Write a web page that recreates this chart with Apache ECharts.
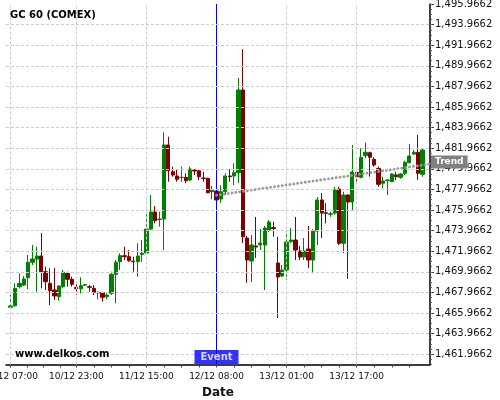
<!DOCTYPE html>
<html><head><meta charset="utf-8">
<script src="https://cdn.jsdelivr.net/npm/echarts@6/dist/echarts.min.js"></script>
<style>html,body{margin:0;padding:0;background:#fff}#c{width:500px;height:400px}</style>
</head><body><div id="c"></div>
<script>
const open = [1466.52,1466.67,1468.52,1468.68,1469.39,1470.89,1471.21,1471.50,1469.98,1468.85,
1468.20,1467.55,1468.52,1469.82,1469.24,1468.46,1468.32,1468.67,1468.52,1468.36,
1467.92,1467.94,1467.55,1467.88,1469.72,1470.95,1471.53,1471.43,1471.00,1470.95,
1471.66,1471.79,1474.12,1475.77,1475.04,1475.09,1482.28,1479.68,1479.27,1479.11,
1479.14,1478.88,1479.85,1479.78,1479.07,1479.04,1477.74,1477.81,1477.03,1477.74,
1479.27,1479.27,1479.59,1487.62,1473.25,1471.01,1472.47,1472.57,1472.57,1474.02,
1474.27,1470.82,1469.56,1470.14,1472.90,1473.05,1471.98,1471.40,1472.18,1471.11,
1473.92,1476.94,1475.70,1475.55,1475.67,1478.00,1472.73,1477.42,1476.74,1479.62,
1479.14,1481.24,1481.53,1480.89,1480.00,1478.56,1478.83,1478.71,1479.37,1479.14,
1479.53,1480.56,1481.40,1481.57,1479.43];
const close = [1466.65,1468.36,1468.85,1469.27,1470.89,1471.21,1471.50,1469.98,1469.00,1468.13,
1467.62,1468.59,1469.92,1469.24,1468.75,1468.32,1468.62,1468.73,1468.46,1467.98,
1467.98,1467.49,1467.71,1469.72,1470.89,1471.53,1471.43,1471.04,1470.95,1471.50,
1471.76,1474.12,1475.77,1474.93,1475.09,1482.28,1479.78,1479.36,1478.95,1479.14,
1478.81,1479.95,1479.75,1479.20,1479.02,1477.64,1477.91,1476.94,1477.74,1479.27,
1479.20,1479.59,1487.62,1473.37,1471.11,1472.57,1472.37,1472.76,1474.22,1474.80,
1474.17,1469.46,1470.14,1472.86,1473.05,1472.08,1471.40,1471.98,1471.11,1473.92,
1476.94,1475.67,1475.64,1475.60,1477.91,1472.73,1477.42,1476.74,1479.66,1479.20,
1481.08,1481.57,1481.08,1480.34,1478.46,1478.78,1478.88,1479.46,1479.20,1479.46,
1480.60,1481.21,1481.57,1479.53,1481.79];
const low = [1466.45,1466.58,1468.36,1468.59,1468.27,1470.63,1468.03,1468.36,1468.20,1466.74,
1467.23,1467.16,1468.36,1468.52,1468.52,1467.71,1467.88,1468.59,1468.03,1467.71,
1467.29,1467.06,1467.29,1467.71,1466.91,1470.14,1471.11,1470.95,1469.98,1469.49,
1470.95,1471.69,1474.02,1474.67,1474.34,1472.08,1478.71,1479.20,1478.71,1478.71,
1478.56,1478.78,1479.36,1478.88,1478.71,1477.59,1477.00,1476.77,1476.67,1477.42,
1478.71,1478.39,1478.59,1472.76,1468.91,1468.97,1471.31,1472.08,1468.20,1473.83,
1473.37,1465.48,1469.46,1469.17,1472.76,1471.11,1471.11,1471.11,1470.31,1469.82,
1472.57,1473.24,1474.67,1475.30,1475.50,1472.57,1471.76,1469.27,1475.97,1478.71,
1479.04,1481.00,1479.20,1480.17,1478.23,1478.07,1477.42,1478.71,1478.88,1479.00,
1479.36,1480.50,1481.31,1478.88,1479.20];
const high = [1467.71,1468.85,1469.82,1469.56,1471.60,1472.57,1472.40,1473.73,1470.46,1470.31,
1470.34,1468.68,1470.14,1469.98,1469.49,1469.00,1469.43,1468.78,1468.68,1468.68,
1468.03,1468.03,1467.88,1469.98,1471.11,1471.76,1472.40,1472.08,1471.43,1472.73,
1473.05,1475.77,1477.42,1476.35,1475.79,1483.51,1483.08,1480.17,1479.85,1480.17,
1479.53,1480.17,1479.92,1479.80,1479.68,1479.10,1478.30,1477.91,1478.39,1479.53,
1479.92,1480.50,1488.78,1491.57,1473.44,1473.54,1475.29,1474.12,1474.41,1474.99,
1474.83,1473.34,1470.63,1474.02,1474.22,1475.29,1472.47,1473.25,1474.41,1474.12,
1477.23,1477.61,1476.62,1475.80,1478.20,1478.23,1477.74,1477.50,1482.28,1479.68,
1481.96,1482.50,1481.63,1481.08,1480.17,1479.20,1478.95,1479.53,1479.68,1479.55,
1480.75,1482.37,1481.79,1483.25,1481.96];

const xTickIndex = [0, 15, 31, 47, 63, 79];
const xTickLabels = ['10/12 07:00','10/12 23:00','11/12 15:00','12/12 08:00','13/12 01:00','13/12 17:00'];
const xSmallTicks = [0,3.75,7.5,11.25,15,19,23,27,31,35,39,43,47,51,55,59,63,67,71,75,79,83,87,91];
const yTicks = [1461.9662,1463.9662,1465.9662,1467.9662,1469.9662,1471.9662,1473.9662,1475.9662,1477.9662,
1479.9662,1481.9662,1483.9662,1485.9662,1487.9662,1489.9662,1491.9662,1493.9662,1495.9662];
const eventIndex = 47;
const eventLabel = 'Event';
const trendX = [47, 95.73];
const trendY = [1477.40, 1480.43];
const trendLabel = 'Trend';

const X_MIN = -1.05, X_MAX = 95.73, Y_MIN = 1460.9662, Y_MAX = 1495.9662;
const yMinor = [];
for (let k = 0; k <= 70; k++) yMinor.push(+(Y_MIN + k * 0.5).toFixed(4));

const FONT = 'DejaVu Sans';
function fmtY(v) {
  const s = v.toFixed(4);
  const [ip, dp] = s.split('.');
  return ip.replace(/\B(?=(\d{3})+(?!\d))/g, ',') + '.' + dp;
}
const gridLine = {color: '#cccccc', type: [3, 2], width: 1};

const chart = echarts.init(document.getElementById('c'), null, {renderer: 'canvas'});
chart.setOption({
  animation: false,
  backgroundColor: '#fff',
  title: [
    {text: 'GC 60 (COMEX)', left: 10, top: 10, padding: 0,
     textStyle: {fontFamily: FONT, fontSize: 10, fontWeight: 'bold', color: '#000'}},
    {text: 'www.delkos.com', left: 15, top: 349, padding: 0, z: 10,
     textStyle: {fontFamily: FONT, fontSize: 10, fontWeight: 'bold', color: '#000'}}
  ],
  grid: {left: 6, right: 70, top: 4, bottom: 35.5, containLabel: false, outerBoundsMode: 'none'},
  xAxis: [
    {type: 'value', min: X_MIN, max: X_MAX, position: 'bottom',
     axisLine: {show: true, onZero: false, lineStyle: {color: '#000', width: 1.5}},
     axisTick: {show: false, customValues: xTickIndex},
     axisLabel: {customValues: xTickIndex, margin: 8, fontFamily: FONT, fontSize: 9, color: '#111',
       hideOverlap: false,
       formatter: v => xTickLabels[xTickIndex.indexOf(Math.round(v))] || ''},
     splitLine: {show: false},
     name: 'Date', nameLocation: 'middle', nameGap: 17,
     nameTextStyle: {fontFamily: FONT, fontSize: 12, fontWeight: 'bold', color: '#111'}},
    {type: 'value', min: X_MIN, max: X_MAX, position: 'bottom',
     axisLine: {show: false, onZero: false},
     axisTick: {show: true, customValues: xSmallTicks, length: 3, lineStyle: {color: '#444'}},
     axisLabel: {show: false}, splitLine: {show: false}}
  ],
  yAxis: [
    {type: 'value', min: Y_MIN, max: Y_MAX, position: 'right',
     axisLine: {show: true, onZero: false, lineStyle: {color: '#000', width: 1.5}},
     axisTick: {show: true, customValues: yTicks, length: 4, lineStyle: {color: '#444'}},
     axisLabel: {customValues: yTicks, margin: 5, fontFamily: FONT, fontSize: 10, color: '#111',
       hideOverlap: false, formatter: fmtY},
     splitLine: {show: false}},
    {type: 'value', min: Y_MIN, max: Y_MAX, position: 'right',
     axisLine: {show: false, onZero: false},
     axisTick: {show: true, customValues: yMinor, length: 2, lineStyle: {color: '#666'}},
     axisLabel: {show: false}, splitLine: {show: false}}
  ],
  series: [
    {type: 'line', xAxisIndex: 0, yAxisIndex: 0, data: [], silent: true, z: 0,
     markLine: {silent: true, symbol: 'none', animation: false, label: {show: false},
       lineStyle: gridLine,
       data: xTickIndex.filter(v => v !== eventIndex).map(v => ({xAxis: v}))
             .concat(yTicks.slice(0, -1).map(v => ({yAxis: v})))}
    },
    {type: 'candlestick', xAxisIndex: 0, yAxisIndex: 0,
     data: open.map((o, i) => [i, o, close[i], low[i], high[i]]),
     encode: {x: 0, y: [1, 2, 3, 4]},
     barWidth: 3.8,
     itemStyle: {color: '#008000', color0: '#800000', borderColor: '#008000', borderColor0: '#800000', borderWidth: 1}
    },
    {type: 'line', xAxisIndex: 0, yAxisIndex: 0, silent: true, z: 3, clip: false,
     data: [[eventIndex, Y_MIN], [eventIndex, Y_MAX]],
     symbol: 'none', itemStyle: {color: '#0000ff'},
     lineStyle: {color: '#0000ff', type: 'solid', width: 1}
    },
    {type: 'line', xAxisIndex: 0, yAxisIndex: 0,
     data: trendX.map((x, i) => [x, trendY[i]]),
     symbol: 'none', clip: false,
     lineStyle: {color: '#999999', width: 2.8, type: [0.1, 3.8], cap: 'round'},
     endLabel: {show: true, formatter: trendLabel, distance: 1, offset: [0, -2],
       backgroundColor: '#808080', color: '#fff', fontFamily: FONT, fontSize: 9, fontWeight: 'bold',
       padding: [2, 4, 1, 4], lineHeight: 10}
    },
    {type: 'scatter', xAxisIndex: 0, yAxisIndex: 0, clip: false, z: 5,
     data: [[eventIndex, Y_MIN]], symbolSize: 1, itemStyle: {color: 'rgba(0,0,0,0)'},
     label: {show: true, position: 'top', distance: 0, formatter: eventLabel,
       backgroundColor: '#0000ff', color: '#fff', fontFamily: FONT, fontSize: 10, fontWeight: 'bold',
       padding: [1, 6, 1, 6], lineHeight: 12}
    }
  ]
});
</script></body></html>
